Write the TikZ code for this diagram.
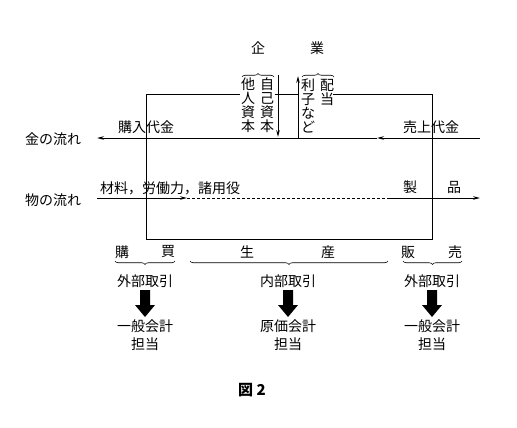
\documentclass[tikz,border=0pt]{standalone}
\usepackage{fontspec}
\setmainfont{Noto Sans CJK JP}
\usetikzlibrary{arrows.meta,decorations.pathreplacing}
\begin{document}
\begin{tikzpicture}[x=1pt,y=-1pt,
  font=\fontsize{14}{14}\selectfont,
  line/.style={line width=1pt},
  tipr/.style={-{Stealth[length=7pt,width=3.5pt]}},
  lbl/.style={inner sep=0pt},
  vtext/.style={inner sep=0pt, align=center},
  brc/.style={decorate, decoration={brace, amplitude=3.5pt}, line width=0.6pt},
  bigarrow/.style={fill=black}]
\useasboundingbox[fill=white] (0,0) rectangle (517,428);

% enterprise box
\coordinate (tl) at (146,95);
\coordinate (tr) at (432,95);
\coordinate (bl) at (146,239);
\coordinate (br) at (432,239);
\coordinate (tlgap) at (240,95);
\coordinate (trgap) at (333,95);
\coordinate (midL) at (275,95);
\coordinate (midR) at (298,95);
\draw[line] (tlgap) -- (tl) -- (bl) -- (br) -- (tr) -- (trgap);
\draw[line] (midL) -- (midR);

% capital / dividend arrows
\coordinate (dtop) at (278,75);
\coordinate (dbot) at (278,137);
\draw[line,tipr] (dtop) -- (dbot);
\coordinate (ubot) at (298,138);
\coordinate (utop) at (298,76);
\draw[line,tipr] (ubot) -- (utop);

% money flow
\coordinate (mR) at (480,138);
\coordinate (mM) at (377,138);
\coordinate (mL) at (97,138);
\draw[line,tipr] (mR) -- (mM);
\draw[line,tipr] (mM) -- (mL);

% goods flow
\coordinate (gL) at (97,198);
\coordinate (gA) at (187,198);
\coordinate (gD) at (388,198);
\coordinate (gR) at (480,198);
\draw[line,tipr] (gL) -- (gA);
\draw[line width=0.6pt, dash pattern=on 3pt off 2pt] (gA) -- (gD);
\draw[line,tipr] (gD) -- (gR);

% labels
\node[lbl] (ki) at (258,48) {企};
\node[lbl] (gyo) at (317,48) {業};
\node[lbl] (kin) at (53,139) {金の流れ};
\node[lbl] (mono) at (53,200) {物の流れ};
\node[lbl] (kounyu) at (146,127) {購入代金};
\node[lbl] (uriage) at (431,127) {売上代金};
\node[lbl,anchor=west] (zairyo) at (100,188) {材料，労働力，諸用役};
\node[lbl] (sei) at (410,187) {製};
\node[lbl] (hin) at (454,187) {品};

% vertical texts
\node[vtext] (tanin) at (248,105.5) {他\\人\\資\\本};
\node[vtext] (jiko) at (267,105.5) {自\\己\\資\\本};
\node[vtext] (rishi) at (308,105.5) {利\\子\\な\\ど};
\node[vtext] (haito) at (327,92.5) {配\\当};
\draw[brc] (242,77) -- (274,77);
\draw[brc] (302,77) -- (334,77);

% bottom categories
\node[lbl] (kou) at (122,252) {購};
\node[lbl] (bai) at (168,252) {買};
\node[lbl] (sho) at (247,252) {生};
\node[lbl] (san) at (328,252) {産};
\node[lbl] (han) at (408,252) {販};
\node[lbl] (bai2) at (455,252) {売};
\draw[brc] (175,261) -- (115,261);
\draw[brc] (388,261) -- (190,261);
\draw[brc] (462,261) -- (403,261);

\node[lbl] (gai1) at (145,281) {外部取引};
\node[lbl] (nai) at (288,281) {内部取引};
\node[lbl] (gai2) at (432,281) {外部取引};

\foreach \x/\n in {145/a1,288/a2,432/a3}{
  \fill (\x-5,290) -- (\x+5,290) -- (\x+5,305) -- (\x+10,305) -- (\x,317)
        -- (\x-10,305) -- (\x-5,305) -- cycle;
}

\node[lbl] (ippan1) at (145,326) {一般会計};
\node[lbl] (tan1) at (145,344) {担当};
\node[lbl] (genka) at (288,326) {原価会計};
\node[lbl] (tan2) at (288,344) {担当};
\node[lbl] (ippan2) at (432,326) {一般会計};
\node[lbl] (tan3) at (432,344) {担当};

\node[lbl,font=\fontsize{15}{15}\selectfont\bfseries] (fig) at (252,390) {図 2};
\end{tikzpicture}
\end{document}
